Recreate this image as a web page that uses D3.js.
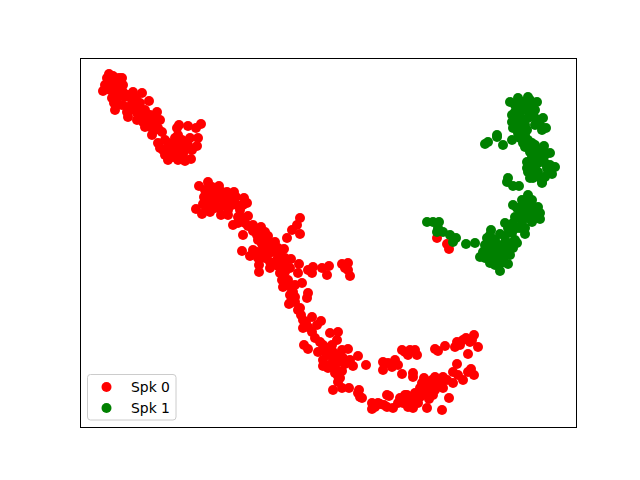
<!DOCTYPE html>
<html><head><meta charset="utf-8">
<script src="https://cdn.jsdelivr.net/npm/d3@7"></script>
<style>html,body{margin:0;padding:0;background:#fff}svg{display:block}</style>
</head><body><div id="c"></div>
<script>
const seriesNames = ["Spk 0","Spk 1"];
const seriesColors = ["#ff0000","#008000"];
const spk0 = [[109,74],[107,78],[122,78],[103,91],[105,85],[112,82],[118,83],[123,85],[110,90],[120,90],[112,98],[117,98],[115,110],[122,105],[133,92],[142,93],[132,100],[149,101],[128,117],[130,110],[137,113],[145,110],[157,112],[160,120],[140,103],[147,120],[145,127],[152,135],[162,132],[155,123],[179,125],[188,126],[201,124],[196,128],[177,128],[175,138],[160,148],[168,160],[190,138],[198,138],[197,146],[188,145],[170,147],[178,148],[183,155],[191,159],[185,161],[165,155],[173,157],[178,160],[158,143],
[113,76],[115,88],[108,84],[116,92],[121,95],[125,97],[128,95],[136,98],[127,107],[133,107],[140,110],[143,116],[150,115],[150,127],[155,130],[148,123],[153,118],[158,128],[165,140],[168,143],[175,145],[180,143],[185,150],[172,152],[163,150],[178,135],[182,140],[192,150],[170,155],[176,153],[110,80],[119,78],[123,92],[114,103],[127,112],[137,120],[143,122],
[208,182],[199,186],[219,186],[234,192],[227,192],[244,198],[204,197],[212,193],[218,197],[208,203],[215,203],[225,203],[247,203],[196,209],[202,214],[210,212],[221,215],[228,210],[240,210],[248,216],[238,217],[233,225],[243,235],[245,223],[253,225],[261,227],[257,235],[265,232],[265,238],[300,218],[297,225],[292,230],[287,238],[300,234],[275,242],[267,248],[284,249],[242,251],[250,256],[257,252],[273,252],[265,258],[259,272],[259,265],[270,268],[277,260],[291,259],[285,265],[299,264],[280,273],[298,273],[282,280],[288,280],[302,283],[283,287],[292,290],[308,293],[307,298],[293,298],[289,304],[300,308],[308,270],[313,267],[322,268],[312,273],[329,266],[327,275],[342,264],[348,263],[348,270],[350,276],[345,268],
[205,190],[212,187],[210,198],[203,204],[216,190],[222,192],[222,198],[230,197],[236,197],[215,208],[220,207],[232,205],[237,205],[228,215],[243,218],[238,223],[248,226],[253,231],[258,240],[262,244],[268,236],[270,242],[262,252],[268,254],[278,248],[280,254],[272,246],[285,258],[280,262],[285,272],[290,268],[282,268],[288,285],[295,285],[290,295],[295,302],[263,250],[258,258],[253,250],[270,262],[278,266],[212,207],[206,208],[228,200],[243,205],
[290,303],[293,292],[298,310],[303,320],[312,317],[321,321],[303,328],[312,332],[315,338],[320,342],[330,333],[338,332],[337,340],[304,345],[308,349],[318,352],[327,348],[323,360],[330,355],[338,355],[348,349],[358,356],[353,366],[366,365],[350,360],[328,368],[335,373],[342,371],[338,382],[333,390],[342,388],[349,388],[359,390],[360,397],[358,393],
[295,297],[301,315],[306,322],[308,327],[317,325],[323,345],[325,352],[330,350],[332,345],[333,360],[327,355],[338,362],[343,358],[330,365],[335,367],[340,378],[338,376],[323,366],[345,364],[333,352],[342,350],
[372,403],[372,409],[378,403],[387,395],[402,350],[415,350],[408,355],[417,355],[435,349],[438,351],[445,346],[457,342],[455,347],[463,340],[474,335],[470,342],[478,347],[468,354],[383,362],[383,370],[395,360],[392,367],[402,374],[413,373],[413,377],[424,378],[435,377],[443,377],[457,364],[453,372],[471,369],[474,375],[453,383],[463,380],[362,398],[380,404],[387,407],[389,396],[393,408],[400,398],[405,395],[408,407],[415,403],[415,393],[422,390],[422,383],[430,387],[437,385],[443,388],[433,395],[429,399],[449,398],[427,408],[442,410],[420,397],[407,402],[412,400],
[405,352],[410,350],[388,363],[398,365],[460,345],[466,338],[472,340],[420,388],[425,385],[432,380],[438,382],[428,393],[418,395],[410,398],[415,398],[403,403],[407,395],[435,390],[440,383],[428,382],[422,395],[418,403],[423,393],[398,403],[375,407],[384,405],[413,408],[411,405],[447,380],[458,375],[468,372],[433,385],
[437,238],[449,249],[447,244]];
const spk1 = [[427,222],[433,222],[439,222],[438,228],[437,232],[443,232],[450,235],[456,238],[453,242],[466,244],[475,243],[491,230],[500,234],[487,238],[495,240],[505,242],[517,243],[513,248],[485,245],[492,248],[505,250],[510,255],[483,252],[480,257],[488,258],[497,257],[503,258],[490,263],[495,265],[508,264],[500,271],[508,178],[507,182],[513,186],[519,186],[513,205],[528,195],[522,200],[532,200],[538,207],[540,213],[540,219],[532,222],[523,212],[517,208],[515,217],[505,223],[513,223],[522,222],[512,233],[525,234],[525,215],[530,207],[528,172],[535,175],[542,183],[533,178],
[490,235],[493,240],[488,245],[498,245],[495,250],[500,246],[490,252],[485,250],[497,252],[492,255],[500,252],[485,258],[490,258],[495,260],[501,263],[505,256],[508,247],[493,243],[505,236],[510,243],[515,240],[520,228],[514,228],[508,228],[518,217],[522,205],[526,205],[527,200],[532,207],[535,212],[530,213],[535,218],[528,218],[520,213],[525,228],[517,228],
[510,102],[518,98],[528,97],[537,102],[523,102],[530,107],[535,110],[512,115],[517,108],[520,117],[513,128],[525,125],[543,118],[546,128],[542,130],[485,144],[488,142],[497,135],[497,137],[503,145],[512,140],[520,138],[525,135],[523,143],[530,147],[532,143],[544,146],[550,153],[555,167],[552,174],[527,162],[527,168],[535,157],[542,160],[535,168],[533,175],[542,182],[547,168],
[515,105],[520,103],[525,105],[530,100],[533,105],[515,112],[520,110],[525,110],[530,113],[515,120],[522,122],[528,118],[535,118],[512,122],[519,127],[515,118],[540,125],[535,125],[527,130],[523,130],[518,133],[528,140],[525,147],[530,152],[536,152],[542,153],[535,145],[540,150],[545,155],[532,157],[538,163],[533,163],[545,163],[550,165],[548,173],[530,173],[538,172],[540,177],[545,177],[530,178]];
const seriesData = [spk0, spk1];

const W = 640, H = 480, box = {l:80, r:576, t:58, b:427};
const x = d3.scaleLinear().domain([80,576]).range([box.l, box.r]);
const y = d3.scaleLinear().domain([58,427]).range([box.t, box.b]);
const svg = d3.select("#c").append("svg").attr("width",W).attr("height",H);
svg.append("rect").attr("width",W).attr("height",H).attr("fill","#fff");

seriesData.forEach((pts,i)=>{
  svg.append("g").selectAll("circle").data(pts).join("circle")
    .attr("cx",d=>x(d[0])).attr("cy",d=>y(d[1])).attr("r",5)
    .attr("fill",seriesColors[i]);
});
svg.append("rect").attr("x",box.l+.5).attr("y",box.t+.5)
  .attr("width",box.r-box.l).attr("height",box.b-box.t)
  .attr("fill","none").attr("stroke","#000").attr("stroke-width",1);

const lg = svg.append("g");
lg.append("rect").attr("x",87.5).attr("y",374.5).attr("width",88.5).attr("height",45.5)
  .attr("rx",3).attr("fill","#fff").attr("fill-opacity",.8).attr("stroke","#ccc").attr("stroke-width",1);
seriesNames.forEach((n,i)=>{
  const cy = 387 + i*21;
  lg.append("circle").attr("cx",106.5).attr("cy",cy).attr("r",5).attr("fill",seriesColors[i]);
  lg.append("text").attr("x",131).attr("y",cy+5).attr("font-family","DejaVu Sans")
    .attr("font-size",13.9).attr("fill","#000").text(n);
});
</script></body></html>
